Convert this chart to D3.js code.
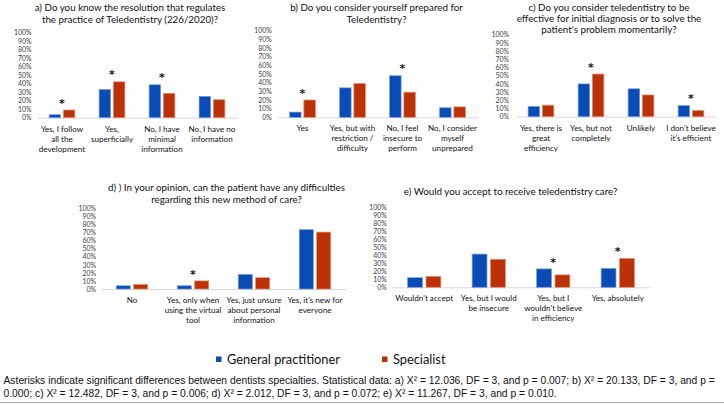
<!DOCTYPE html>
<html><head><meta charset="utf-8">
<script src="https://cdn.jsdelivr.net/npm/d3@7"></script>
<style>
html,body{margin:0;padding:0;background:#fff;}
svg{display:block;}
</style></head>
<body>
<svg id="chart" width="724" height="405"></svg>
<script>
// ---------------- DATA ----------------
const seriesNames = ["General practitioner", "Specialist"];
const tickValues = [0,10,20,30,40,50,60,70,80,90,100];

const titleA = ["a) Do you know the resolution that regulates", "the practice of Teledentistry (226/2020)?"];
const catsA = ["Yes, I follow\nall the\ndevelopment", "Yes,\nsuperficially", "No, I have\nminimal\ninformation", "No, I have no\ninformation"];
const gpA = [3.5, 33, 38.5, 25];
const spA = [9, 42, 28.5, 21];
const sigA = [true, true, true, false];

const titleB = ["b) Do you consider yourself prepared for", "Teledentistry?"];
const catsB = ["Yes", "Yes, but with\nrestriction /\ndifficulty", "No, I feel\ninsecure to\nperform", "No, I consider\nmyself\nunprepared"];
const gpB = [6, 34, 48, 11];
const spB = [20, 39, 29, 12];
const sigB = [true, false, true, false];

const titleC = ["c) Do you consider teledentistry to be", "effective for initial diagnosis or to solve the", "patient's problem momentarily?"];
const catsC = ["Yes, there is\ngreat\nefficiency", "Yes, but not\ncompletely", "Unlikely", "I don't believe\nit's efficient"];
const gpC = [12.5, 40, 34, 13.5];
const spC = [14, 52, 26.5, 7.5];
const sigC = [false, true, false, true];

const titleD = ["d) ) In your opinion, can the patient have any difficulties", "regarding this new method of care?"];
const catsD = ["No", "Yes, only when\nusing the virtual\ntool", "Yes, just unsure\nabout personal\ninformation", "Yes, it's new for\neveryone"];
const gpD = [4, 4, 18, 73.5];
const spD = [5.5, 10, 14, 70.5];
const sigD = [false, true, false, false];

const titleE = ["e) Would you accept to receive teledentistry care?"];
const catsE = ["Wouldn't accept", "Yes, but I would\nbe insecure", "Yes, but I\nwouldn't believe\nin efficiency", "Yes, absolutely"];
const gpE = [12, 41.5, 23, 23.5];
const spE = [13.5, 35, 15.5, 36];
const sigE = [false, false, true, true];

const footnoteLines = [
  "Asterisks indicate significant differences between dentists specialties. Statistical data: a) X\u00b2 = 12.036, DF = 3, and p = 0.007; b) X\u00b2 = 20.133, DF = 3, and p =",
  "0.000; c) X\u00b2 = 12.482, DF = 3, and p = 0.006; d) X\u00b2 = 2.012, DF = 3, and p = 0.072; e) X\u00b2 = 11.267, DF = 3, and p = 0.010."
];

// ---------------- STYLE / LAYOUT ----------------
const colors = ["#0a4cb5", "#bb3108"];
const strokes = ["#6d9be0", "#e68a6b"];
const FONT = "Lato, 'Open Sans', sans-serif";

const panels = [
  {title: titleA, cats: catsA, gp: gpA, sp: spA, sig: sigA, x0: 37, x1: 237, y0: 117.7, y100: 32.3, tickX: 31.5, titleX: 130, titleY: 10.8, titleLH: 12},
  {title: titleB, cats: catsB, gp: gpB, sp: spB, sig: sigB, x0: 277.5, x1: 477.5, y0: 117.3, y100: 30.7, tickX: 271.7, titleX: 376.5, titleY: 10.8, titleLH: 12},
  {title: titleC, cats: catsC, gp: gpC, sp: spC, sig: sigC, x0: 516, x1: 716, y0: 116.7, y100: 34.7, tickX: 509, titleX: 609, titleY: 10.5, titleLH: 11.2},
  {title: titleD, cats: catsD, gp: gpD, sp: spD, sig: sigD, x0: 101.5, x1: 345.5, y0: 289, y100: 208.3, tickX: 96, titleX: 226.5, titleY: 191.2, titleLH: 11.5},
  {title: titleE, cats: catsE, gp: gpE, sp: spE, sig: sigE, x0: 392, x1: 650, y0: 287.3, y100: 207.3, tickX: 386.7, titleX: 510.5, titleY: 195.2, titleLH: 11.5}
];

const svg = d3.select("#chart");
svg.append("rect").attr("width", 724).attr("height", 405).attr("fill", "#fff");

panels.forEach(p => {
  const g = svg.append("g");
  const x = d3.scaleBand().domain(p.cats).range([p.x0, p.x1]).padding(0);
  const y = d3.scaleLinear().domain([0, 100]).range([p.y0, p.y100]);
  const bw = x.bandwidth() * 0.23;
  const gap = x.bandwidth() * 0.055;

  // title
  const t = g.append("text").attr("x", p.titleX).attr("y", p.titleY)
    .attr("text-anchor", "middle").attr("font-family", FONT).attr("font-size", 9.8)
    .attr("fill", "#111");
  p.title.forEach((line, i) => {
    t.append("tspan").attr("x", p.titleX).attr("y", p.titleY + i * p.titleLH).text(line);
  });

  // y axis labels
  const ya = g.append("g").attr("transform", `translate(${p.tickX + 3},0)`)
    .call(d3.axisLeft(y).tickValues(tickValues).tickFormat(d => d + "%").tickSize(0).tickPadding(3));
  ya.select(".domain").remove();
  ya.selectAll("text").attr("font-family", FONT).attr("font-size", 6.9).attr("fill", "#404040");

  // x axis line
  const xa = g.append("g").attr("transform", `translate(0,${p.y0})`)
    .call(d3.axisBottom(x).tickSize(0).tickFormat(""));
  xa.select(".domain").attr("stroke", "#d9d9d9").attr("stroke-width", 1);

  // category labels
  p.cats.forEach(c => {
    const cx = x(c) + x.bandwidth() / 2;
    const lt = g.append("text").attr("text-anchor", "middle").attr("font-family", FONT)
      .attr("font-size", 8.1).attr("fill", "#111");
    c.split("\n").forEach((line, i) => {
      lt.append("tspan").attr("x", cx).attr("y", p.y0 + 14 + i * 10).text(line);
    });
  });

  // bars
  const rows = p.cats.map((c, i) => ({cat: c, vals: [p.gp[i], p.sp[i]], sig: p.sig[i]}));
  rows.forEach(r => {
    const cx = x(r.cat) + x.bandwidth() / 2;
    r.vals.forEach((v, s) => {
      const bx = s === 0 ? cx - gap / 2 - bw : cx + gap / 2;
      g.append("rect").attr("x", bx).attr("y", y(v)).attr("width", bw).attr("height", y(0) - y(v))
        .attr("fill", colors[s]).attr("stroke", strokes[s]).attr("stroke-width", 0.7);
    });
    if (r.sig) {
      const top = y(d3.max(r.vals));
      g.append("text").attr("x", cx).attr("y", top - 3.4).attr("text-anchor", "middle")
        .attr("font-family", "'DejaVu Sans', sans-serif").attr("font-size", 11).attr("font-weight", "bold")
        .attr("fill", "#111").text("*");
    }
  });
});

// legend
const legendX = [216, 382];
seriesNames.forEach((n, i) => {
  svg.append("rect").attr("x", legendX[i]).attr("y", 356.5).attr("width", 5.5).attr("height", 5.5).attr("fill", colors[i]);
  svg.append("text").attr("x", legendX[i] + 11).attr("y", 363.5).attr("font-family", FONT)
    .attr("font-size", 12.8).attr("fill", "#111").text(n);
});

// footnote
footnoteLines.forEach((l, i) => {
  svg.append("text").attr("x", 3.5).attr("y", 384 + i * 13).attr("font-family", "'Liberation Sans', Arial, sans-serif")
    .attr("font-size", 10.3).attr("fill", "#111").text(l);
});
svg.append("line").attr("x1", 0).attr("x2", 724).attr("y1", 402.5).attr("y2", 402.5)
  .attr("stroke", "#a6a6a6").attr("stroke-width", 1.2);
</script>
</body></html>
